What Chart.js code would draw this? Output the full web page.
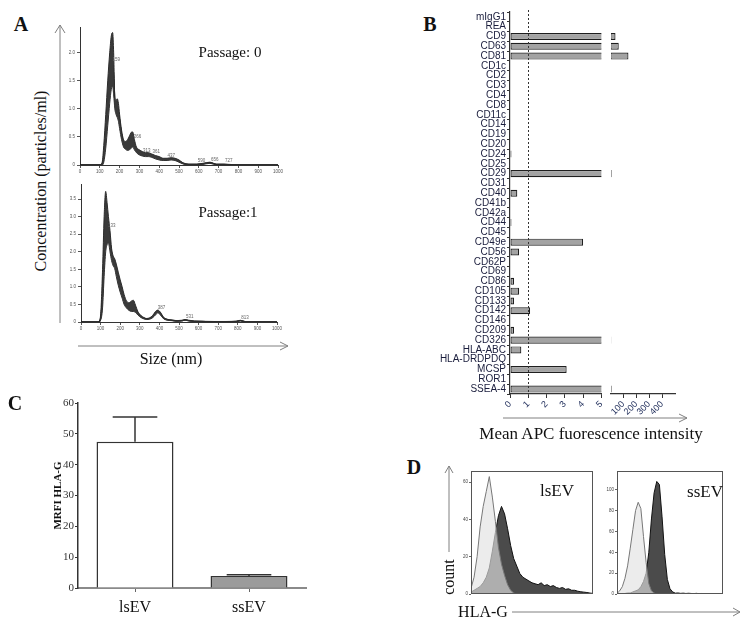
<!DOCTYPE html>
<html>
<head>
<meta charset="utf-8">
<script src="https://cdn.jsdelivr.net/npm/chart.js@4.4.0/dist/chart.umd.min.js"></script>
<style>
  body { margin: 0; background: #fff; }
  #page { position: relative; width: 748px; height: 621px; overflow: hidden; font-family: "Liberation Serif", "Times New Roman", serif; }
  canvas { position: absolute; }
  .lbl { position: absolute; white-space: nowrap; color: #111; line-height: 1; transform: translate(-50%, -50%); }
  .rot { transform: translate(-50%, -50%) rotate(-90deg); }
  .letter { font-weight: bold; font-size: 20px; }
  svg { position: absolute; left: 0; top: 0; }
</style>
</head>
<body>
<div id="page">
  <svg width="748" height="621">
    <g stroke="#808080" stroke-width="1" fill="none">
      <line x1="60" y1="323" x2="60" y2="25"/><polyline points="55,33 60,25 65,33"/>
      <line x1="78" y1="346" x2="288" y2="346"/><polyline points="280,342 288,346 280,350"/>
      <line x1="503" y1="418" x2="687" y2="418"/><polyline points="679,414 687,418 679,422"/>
      <line x1="449" y1="552" x2="449" y2="466"/><polyline points="445,473 449,466 453,473"/>
      <line x1="512" y1="612" x2="740" y2="612"/><polyline points="733,608 740,612 733,616"/>
    </g>
  </svg>

  <canvas id="ntaTop" width="240" height="165" style="left:50px;top:20px"></canvas>
  <canvas id="ntaBottom" width="240" height="160" style="left:50px;top:178px"></canvas>
  <canvas id="markersLow" width="170" height="420" style="left:440px;top:5px"></canvas>
  <canvas id="markersHigh" width="80" height="420" style="left:606px;top:5px"></canvas>
  <canvas id="mrfiChart" width="320" height="231" style="left:0px;top:390px"></canvas>
  <canvas id="histLs" width="160" height="135" style="left:440px;top:465px"></canvas>
  <canvas id="histSs" width="140" height="135" style="left:595px;top:465px"></canvas>

  <div class="lbl letter" style="left:21px;top:24px">A</div>
  <div class="lbl letter" style="left:430px;top:24px">B</div>
  <div class="lbl letter" style="left:15px;top:403px">C</div>
  <div class="lbl letter" style="left:414px;top:467px">D</div>

  <div class="lbl" style="left:230px;top:52px;font-size:15px">Passage: 0</div>
  <div class="lbl" style="left:228px;top:212px;font-size:15px">Passage:1</div>
  <div class="lbl rot" style="left:41px;top:181px;font-size:16px">Concentration (particles/ml)</div>
  <div class="lbl" style="left:171px;top:359px;font-size:16px">Size (nm)</div>
  <div class="lbl" style="left:591px;top:433px;font-size:17px">Mean APC fuorescence intensity</div>
  <div class="lbl" style="left:557px;top:490px;font-size:17px">lsEV</div>
  <div class="lbl" style="left:705px;top:491px;font-size:17px">ssEV</div>
  <div class="lbl rot" style="left:449px;top:577px;font-size:16px">count</div>
  <div class="lbl" style="left:483px;top:612px;font-size:16px">HLA-G</div>
</div>

<script>
// Panel A - NTA size distribution, passage 0
const sizeP0  = [0, 100, 112, 120, 130, 140, 150, 158, 165, 170, 176, 182, 188, 194, 200, 210, 220, 230, 240, 250, 258, 266, 275, 285, 300, 315, 330, 345, 360, 380, 400, 420, 440, 460, 480, 500, 520, 550, 590, 620, 656, 690, 727, 760, 800, 1000];
const meanP0  = [0, 0, 0.02, 0.15, 0.55, 1.05, 1.5, 1.78, 1.82, 1.6, 1.15, 1.05, 1.02, 0.95, 0.8, 0.55, 0.4, 0.36, 0.35, 0.38, 0.42, 0.45, 0.35, 0.27, 0.22, 0.2, 0.18, 0.18, 0.17, 0.14, 0.12, 0.1, 0.1, 0.11, 0.1, 0.07, 0.03, 0.01, 0.01, 0.02, 0.04, 0.01, 0.01, 0.005, 0, 0];
const upperP0 = [0, 0, 0.05, 0.35, 0.9, 1.5, 2.0, 2.3, 2.36, 2.0, 1.2, 1.15, 1.18, 1.1, 0.9, 0.62, 0.45, 0.42, 0.45, 0.52, 0.58, 0.59, 0.45, 0.32, 0.27, 0.24, 0.22, 0.22, 0.2, 0.17, 0.15, 0.12, 0.12, 0.13, 0.12, 0.09, 0.04, 0.015, 0.015, 0.03, 0.05, 0.015, 0.015, 0.01, 0, 0];
const lowerP0 = [0, 0, 0, 0.05, 0.3, 0.7, 1.1, 1.35, 1.4, 1.25, 1.0, 0.9, 0.85, 0.78, 0.65, 0.45, 0.32, 0.28, 0.26, 0.27, 0.3, 0.32, 0.27, 0.22, 0.18, 0.16, 0.15, 0.15, 0.14, 0.11, 0.09, 0.08, 0.08, 0.09, 0.08, 0.05, 0.02, 0.005, 0.005, 0.01, 0.03, 0.005, 0.005, 0, 0, 0];
const peaksP0 = [159, 266, 313, 361, 437, 590, 656, 727];
const peakYP0 = [1.82, 0.45, 0.2, 0.17, 0.1, 0.01, 0.04, 0.01];

// Panel A - passage 1
const sizeP1  = [0, 90, 100, 110, 118, 126, 133, 140, 148, 156, 164, 172, 180, 190, 200, 210, 220, 232, 245, 258, 267, 278, 290, 305, 320, 335, 350, 365, 380, 392, 405, 420, 440, 460, 490, 515, 531, 550, 580, 620, 680, 740, 790, 813, 840, 1000];
const meanP1  = [0, 0, 0.1, 0.8, 1.9, 2.5, 2.65, 2.6, 2.3, 1.95, 1.78, 1.7, 1.5, 1.25, 1.05, 0.85, 0.65, 0.52, 0.45, 0.47, 0.48, 0.38, 0.25, 0.16, 0.11, 0.09, 0.1, 0.15, 0.25, 0.3, 0.25, 0.12, 0.07, 0.05, 0.03, 0.04, 0.06, 0.04, 0.02, 0.015, 0.01, 0.01, 0.015, 0.04, 0.005, 0];
const upperP1 = [0, 0, 0.2, 1.5, 3.0, 3.72, 3.4, 3.0, 2.6, 2.1, 1.88, 1.8, 1.65, 1.42, 1.2, 1.0, 0.78, 0.6, 0.55, 0.6, 0.62, 0.48, 0.3, 0.19, 0.13, 0.1, 0.12, 0.18, 0.3, 0.34, 0.28, 0.14, 0.08, 0.06, 0.04, 0.05, 0.07, 0.05, 0.03, 0.02, 0.015, 0.015, 0.02, 0.05, 0.01, 0];
const lowerP1 = [0, 0, 0.05, 0.4, 1.3, 2.0, 2.2, 2.25, 2.0, 1.75, 1.6, 1.52, 1.3, 1.05, 0.85, 0.68, 0.5, 0.4, 0.33, 0.3, 0.3, 0.27, 0.2, 0.13, 0.09, 0.07, 0.08, 0.12, 0.2, 0.26, 0.2, 0.1, 0.05, 0.04, 0.02, 0.03, 0.05, 0.03, 0.01, 0.01, 0.005, 0.005, 0.01, 0.03, 0, 0];
const peaksP1 = [133, 387, 531, 813];
const peakYP1 = [2.65, 0.3, 0.06, 0.04];

const sizeTicks = [0, 100, 200, 300, 400, 500, 600, 700, 800, 900, 1000];

// Panel B - surface markers (mean APC intensity)
const markers = ['mIgG1', 'REA', 'CD9', 'CD63', 'CD81', 'CD1c', 'CD2', 'CD3', 'CD4', 'CD8', 'CD11c', 'CD14', 'CD19', 'CD20', 'CD24', 'CD25', 'CD29', 'CD31', 'CD40', 'CD41b', 'CD42a', 'CD44', 'CD45', 'CD49e', 'CD56', 'CD62P', 'CD69', 'CD86', 'CD105', 'CD133', 'CD142', 'CD146', 'CD209', 'CD326', 'HLA-ABC', 'HLA-DRDPDQ', 'MCSP', 'ROR1', 'SSEA-4'];
const apcValues = [0, 0, 40, 65, 140, 0, 0, 0, 0, 0, 0, 0, 0, 0, 0.08, 0, 10, 0, 0.4, 0, 0, 0.08, 0, 4.0, 0.5, 0, 0, 0.22, 0.5, 0.22, 1.1, 0, 0.22, 7, 0.62, 0, 3.1, 0, 10];
const lowTicks = [0, 1, 2, 3, 4, 5];
const highTicks = [100, 200, 300, 400];

// Panel C - MRFI HLA-G
const groups = ['lsEV', 'ssEV'];
const mrfiMean = [47.4, 3.9];
const mrfiSem = [8.1, 0.4];

// Panel D - HLA-G histograms (isotype vs stained)
const lsIsotype = [3, 9, 20, 36, 47, 55, 63, 52, 39, 25, 16, 10, 5, 2, 0.5, 0, 0, 0, 0, 0, 0, 0, 0, 0, 0, 0, 0, 0, 0, 0, 0, 0, 0, 0, 0, 0, 0, 0, 0, 0, 0];
const lsStained = [1, 2, 3, 4, 6, 9, 14, 23, 33, 42, 47, 43, 35, 26, 19, 15, 11, 9, 8, 7, 6, 5.5, 5, 6, 4.5, 5, 4, 4.5, 3.5, 3, 3.5, 2.5, 2.8, 2, 2, 1.5, 1.2, 1, 0.8, 0.5, 0.3];
const ssIsotype = [0.5, 3, 7, 15, 27, 44, 62, 80, 88, 82, 55, 30, 10, 3, 1, 0, 0, 0, 0, 0, 0, 0, 0, 0, 0, 0, 0, 0, 0, 0, 0, 0, 0, 0, 0, 0, 0, 0, 0, 0, 0];
const ssStained = [0, 0.3, 0.5, 0.5, 1, 1, 2, 3, 4, 7, 12, 20, 40, 72, 97, 108, 105, 74, 38, 14, 5, 2, 0.8, 1, 0.6, 0.8, 0.5, 0.7, 0.5, 0.4, 0.6, 0.3, 0.5, 0.3, 0.4, 0.2, 0.3, 0.2, 0.2, 0.1, 0.1];
const lsCountTicks = [0, 20, 40, 60];
const ssCountTicks = [0, 20, 40, 60, 80, 100];

Chart.defaults.animation = false;
Chart.defaults.responsive = false;
Chart.defaults.plugins.legend.display = false;
Chart.defaults.plugins.tooltip.enabled = false;

function ticksAt(values) {
    return function(scale) { scale.ticks = values.map(v => ({ value: v })); };
}
function fixW(w) { return function(s) { s.width = w; }; }
function fixH(h) { return function(s) { s.height = h; }; }
function pts(xs, ys) { return xs.map((x, i) => ({ x: x, y: ys[i] })); }

// small size labels next to the NTA peaks
const peakText = {
    id: 'peakText',
    afterDatasetsDraw(chart, args, opts) {
        const c = chart.ctx;
        c.save();
        c.fillStyle = '#666';
        c.font = '4.5px "Liberation Sans"';
        c.textBaseline = 'bottom';
        opts.sizes.forEach((s, i) => {
            const x = chart.scales.x.getPixelForValue(s);
            const y = chart.scales.y.getPixelForValue(opts.ys[i]);
            c.fillText(String(s), x + 1, y - 1);
        });
        c.restore();
    }
};

function ntaChart(id, sizes, mean, upper, lower, ymax, yTicks, peaks, peakYs, pad, xh) {
    const tiny = { size: 4.5, family: 'Liberation Sans' };
    return new Chart(document.getElementById(id), {
        type: 'line',
        data: {
            datasets: [
                { data: pts(sizes, upper), borderColor: '#2b2b2b', borderWidth: 1, backgroundColor: '#3a3a3a', fill: '+1', pointRadius: 0, cubicInterpolationMode: 'monotone' },
                { data: pts(sizes, lower), borderColor: '#2b2b2b', borderWidth: 1, fill: false, pointRadius: 0, cubicInterpolationMode: 'monotone' },
                { data: pts(sizes, mean), borderColor: '#000', borderWidth: 1.3, fill: false, pointRadius: 0, cubicInterpolationMode: 'monotone' }
            ]
        },
        options: {
            layout: { padding: pad },
            plugins: { peakText: { sizes: peaks, ys: peakYs } },
            scales: {
                x: {
                    type: 'linear', min: 0, max: 1000,
                    afterBuildTicks: ticksAt(sizeTicks), afterFit: fixH(xh),
                    ticks: { font: tiny, color: '#555', padding: 1, maxRotation: 0, callback: v => String(v) },
                    grid: { drawOnChartArea: false, tickLength: 3, color: '#555' },
                    border: { color: '#333', width: 1 }
                },
                y: {
                    min: 0, max: ymax,
                    afterBuildTicks: ticksAt(yTicks), afterFit: fixW(pad.yw),
                    ticks: { font: tiny, color: '#555', padding: 2, callback: v => v === 0 ? '0' : v.toFixed(1) },
                    grid: { drawOnChartArea: false, tickLength: 3, color: '#555' },
                    border: { color: '#333', width: 1 }
                }
            }
        },
        plugins: [peakText]
    });
}

ntaChart('ntaTop', sizeP0, meanP0, upperP0, lowerP0, 2.46, [0, 0.5, 1, 1.5, 2],
    peaksP0, peakYP0, { left: 0, right: 12, top: 7, bottom: 0, yw: 30 }, 20);
ntaChart('ntaBottom', sizeP1, meanP1, upperP1, lowerP1, 3.93, [0, 0.5, 1, 1.5, 2, 2.5, 3, 3.5],
    peaksP1, peakYP1, { left: 0, right: 13, top: 6, bottom: 0, yw: 31 }, 16);

// Panel B - broken x axis drawn as two charts side by side
const dottedAtOne = {
    id: 'dottedAtOne',
    afterDatasetsDraw(chart) {
        const c = chart.ctx, a = chart.chartArea;
        const x = Math.round(chart.scales.x.getPixelForValue(1)) + 0.5;
        c.save();
        c.strokeStyle = '#333';
        c.lineWidth = 1;
        c.setLineDash([2, 2]);
        c.beginPath();
        c.moveTo(x, a.top - 2);
        c.lineTo(x, a.bottom);
        c.stroke();
        c.restore();
    }
};

const markerFont = { size: 10, family: 'Liberation Sans' };
const barStyle = { backgroundColor: '#a3a3a3', borderColor: '#1f1f1f', borderWidth: 1.2, borderSkipped: false, barPercentage: 0.78, categoryPercentage: 0.92 };

new Chart(document.getElementById('markersLow'), {
    type: 'bar',
    data: { labels: markers, datasets: [Object.assign({ data: apcValues }, barStyle)] },
    options: {
        indexAxis: 'y',
        layout: { padding: { left: 0, right: 6, top: 7, bottom: 0 } },
        scales: {
            x: {
                min: 0, max: 5,
                afterBuildTicks: ticksAt(lowTicks), afterFit: fixH(31),
                ticks: { font: { size: 9, family: 'Liberation Sans' }, color: '#1c2a58', minRotation: 45, maxRotation: 45, padding: 1 },
                grid: { drawOnChartArea: false, tickLength: 4, color: '#333' },
                border: { color: '#333', width: 1.2 }
            },
            y: {
                afterFit: fixW(70),
                ticks: { font: markerFont, color: '#1a1d3c', padding: 1, autoSkip: false },
                grid: { drawOnChartArea: false, tickLength: 3, color: '#333' },
                border: { color: '#333', width: 1.2 }
            }
        }
    },
    plugins: [dottedAtOne]
});

new Chart(document.getElementById('markersHigh'), {
    type: 'bar',
    data: { labels: markers, datasets: [Object.assign({ data: apcValues }, barStyle)] },
    options: {
        indexAxis: 'y',
        layout: { padding: { left: 5, right: 11, top: 7, bottom: 0 } },
        scales: {
            x: {
                min: 5, max: 500,
                afterBuildTicks: ticksAt(highTicks), afterFit: fixH(31),
                ticks: { font: { size: 9, family: 'Liberation Sans' }, color: '#1c2a58', minRotation: 45, maxRotation: 45, padding: 1 },
                grid: { drawOnChartArea: false, tickLength: 4, color: '#333' },
                border: { color: '#333', width: 1.2 }
            },
            y: { display: false }
        }
    }
});

// Panel C - MRFI bars with SEM
const errorBars = {
    id: 'errorBars',
    afterDatasetsDraw(chart) {
        const meta = chart.getDatasetMeta(0);
        const y = chart.scales.y;
        const c = chart.ctx;
        c.save();
        c.strokeStyle = '#333';
        c.lineWidth = 1.5;
        meta.data.forEach((bar, i) => {
            const top = y.getPixelForValue(mrfiMean[i] + mrfiSem[i]);
            const half = bar.width * 0.29;
            c.beginPath();
            c.moveTo(bar.x, bar.y);
            c.lineTo(bar.x, top);
            c.moveTo(bar.x - half, top);
            c.lineTo(bar.x + half, top);
            c.stroke();
        });
        c.restore();
    }
};

new Chart(document.getElementById('mrfiChart'), {
    type: 'bar',
    data: {
        labels: groups,
        datasets: [{
            data: mrfiMean,
            backgroundColor: ['#ffffff', '#9b9b9b'],
            borderColor: '#333',
            borderWidth: 1.5,
            barPercentage: 0.675,
            categoryPercentage: 1
        }]
    },
    options: {
        layout: { padding: { left: 48, right: 14, top: 13, bottom: 0 } },
        scales: {
            x: {
                afterFit: fixH(33),
                ticks: { font: { size: 16, family: 'Liberation Serif' }, color: '#111', padding: 6 },
                grid: { offset: false, drawOnChartArea: false, tickLength: 4, color: '#666' },
                border: { color: '#8a8a8a', width: 2 }
            },
            y: {
                min: 0, max: 60,
                afterBuildTicks: ticksAt([0, 10, 20, 30, 40, 50, 60]), afterFit: fixW(30),
                title: { display: true, text: 'MRFI HLA-G', font: { size: 11, weight: 'bold', family: 'Liberation Serif' }, color: '#111' },
                ticks: { font: { size: 11, family: 'Liberation Serif' }, color: '#333', padding: 1 },
                grid: { drawOnChartArea: false, tickLength: 3, color: '#333' },
                border: { color: '#333', width: 1.5 }
            }
        }
    },
    plugins: [errorBars]
});

// Panel D - flow cytometry histograms
const frame = {
    id: 'frame',
    afterDraw(chart) {
        const a = chart.chartArea, c = chart.ctx;
        c.save();
        c.strokeStyle = '#555';
        c.lineWidth = 1;
        c.strokeRect(a.left + 0.5, a.top + 0.5, a.width - 1, a.height - 1);
        c.restore();
    }
};

function histChart(id, isotype, stained, ymax, yTicks, pad, yw) {
    const bins = isotype.map((v, i) => i);
    return new Chart(document.getElementById(id), {
        type: 'line',
        data: {
            datasets: [
                { data: pts(bins, isotype), borderColor: '#777', borderWidth: 1, backgroundColor: 'rgba(226,226,226,0.66)', fill: 'origin', pointRadius: 0, tension: 0 },
                { data: pts(bins, stained), borderColor: '#111', borderWidth: 1, backgroundColor: '#4b4b4b', fill: 'origin', pointRadius: 0, tension: 0 }
            ]
        },
        options: {
            layout: { padding: pad },
            scales: {
                x: { type: 'linear', min: 0, max: 40, display: false },
                y: {
                    min: 0, max: ymax,
                    afterBuildTicks: ticksAt(yTicks), afterFit: fixW(yw),
                    ticks: { font: { size: 4.5, family: 'Liberation Sans' }, color: '#444', padding: 1 },
                    grid: { drawOnChartArea: false, tickLength: 2, color: '#666' },
                    border: { display: false }
                }
            }
        },
        plugins: [frame]
    });
}

histChart('histLs', lsIsotype, lsStained, 66, lsCountTicks, { left: 0, right: 7, top: 6, bottom: 6 }, 31);
histChart('histSs', ssIsotype, ssStained, 118, ssCountTicks, { left: 0, right: 12, top: 6, bottom: 6 }, 22);
</script>
</body>
</html>
